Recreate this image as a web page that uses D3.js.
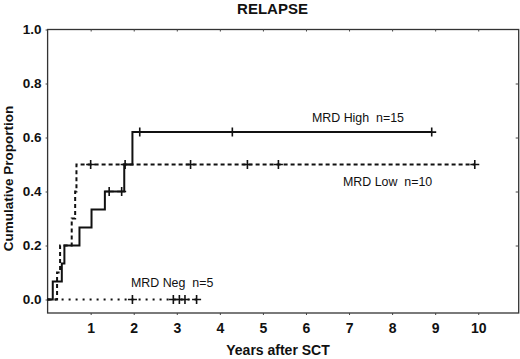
<!DOCTYPE html>
<html>

<head>
    <title>Relapse</title>
    <script src="https://d3js.org/d3.v7.min.js"></script>
    <style>
        body { margin: 0; background: #fff; }
        text { font-family: Arial, "Liberation Sans", sans-serif; fill: #111; }
    </style>
</head>

<body>
    <svg id="chart"></svg>

    <script>
        // Data
        var xTicks = [1, 2, 3, 4, 5, 6, 7, 8, 9, 10];
        var yTicks = [0.0, 0.2, 0.4, 0.6, 0.8, 1.0];

        var highEventTimes = [0.12, 0.33, 0.39, 0.74, 1.02, 1.33, 1.78, 1.97];
        var highEventValues = [0.067, 0.133, 0.2, 0.267, 0.333, 0.4, 0.5, 0.62];
        var highCensorTimes = [1.43, 1.72, 2.14, 4.29, 8.92];

        var lowEventTimes = [0.22, 0.29, 0.56, 0.64, 0.67];
        var lowEventValues = [0.1, 0.2, 0.3, 0.4, 0.5];
        var lowCensorTimes = [1.0, 1.8, 3.32, 4.64, 5.36, 9.92];

        var negEventTimes = [];
        var negEventValues = [];
        var negCensorTimes = [1.97, 2.92, 3.06, 3.19, 3.46];

        var groups = [
            { name: "MRD High  n=15", events: highEventTimes, values: highEventValues, censors: highCensorTimes, dash: null, lx: 312, ly: 121.5 },
            { name: "MRD Low  n=10", events: lowEventTimes, values: lowEventValues, censors: lowCensorTimes, dash: "4,3", lx: 343, ly: 186 },
            { name: "MRD Neg  n=5", events: negEventTimes, values: negEventValues, censors: negCensorTimes, dash: "2,5", lx: 131, ly: 286.5 }
        ];

        var W = 520, H = 359;
        var x = d3.scaleLinear().domain([0, 10.94]).range([47.6, 518.7]);
        var y = d3.scaleLinear().domain([-0.05, 1]).range([313, 29.5]);

        var svg = d3.select("#chart").attr("width", W).attr("height", H);

        // value of the step curve at time t
        function valueAt(g, t) {
            var v = 0;
            g.events.forEach(function(e, i) { if (e <= t) v = g.values[i]; });
            return v;
        }

        // frame
        svg.append("rect")
            .attr("x", x(0)).attr("y", y(1))
            .attr("width", x(10.94) - x(0)).attr("height", y(-0.05) - y(1))
            .attr("fill", "none").attr("stroke", "#333").attr("stroke-width", 1.3);

        // axes
        var xAxis = svg.append("g")
            .attr("transform", "translate(0," + y(-0.05) + ")")
            .call(d3.axisBottom(x).tickValues(xTicks).tickSize(2).tickPadding(8).tickFormat(d3.format("d")));
        xAxis.select(".domain").remove();
        xAxis.selectAll("text").attr("font-size", 14).attr("font-weight", "bold")
            .style("font-family", "Arial, 'Liberation Sans', sans-serif");

        var yAxis = svg.append("g")
            .attr("transform", "translate(" + x(0) + ",0)")
            .call(d3.axisLeft(y).tickValues(yTicks).tickSize(2).tickPadding(4).tickFormat(d3.format(".1f")));
        yAxis.select(".domain").remove();
        yAxis.selectAll("text").attr("font-size", 13.5).attr("font-weight", "bold")
            .style("font-family", "Arial, 'Liberation Sans', sans-serif");

        // inward ticks on top and right
        svg.append("g").attr("transform", "translate(0," + y(1) + ")")
            .call(d3.axisBottom(x).tickValues(xTicks).tickSize(2).tickFormat(""))
            .select(".domain").remove();
        svg.append("g").attr("transform", "translate(" + x(10.94) + ",0)")
            .call(d3.axisLeft(y).tickValues(yTicks.slice(1, 5)).tickSize(3).tickFormat(""))
            .select(".domain").remove();
        svg.selectAll(".tick line").attr("stroke", "#444");

        // curves
        var line = d3.line()
            .x(function(d) { return x(d[0]); })
            .y(function(d) { return y(d[1]); })
            .curve(d3.curveStepAfter);

        groups.forEach(function(g) {
            var end = d3.max(g.censors);
            var pts = [[0, 0]];
            g.events.forEach(function(e, i) { pts.push([e, g.values[i]]); });
            pts.push([end, valueAt(g, end)]);

            svg.append("path")
                .datum(pts)
                .attr("d", line)
                .attr("fill", "none")
                .attr("stroke", "#111")
                .attr("stroke-width", 2)
                .attr("stroke-dasharray", g.dash);

            // censor marks
            svg.append("g").selectAll("path")
                .data(g.censors)
                .enter().append("path")
                .attr("d", function(t) {
                    var cx = x(t), cy = y(valueAt(g, t));
                    return "M" + (cx - 4.5) + "," + cy + "H" + (cx + 4.5) +
                        "M" + cx + "," + (cy - 4.5) + "V" + (cy + 4.5);
                })
                .attr("stroke", "#111")
                .attr("stroke-width", 1.6);

            svg.append("text")
                .attr("x", g.lx).attr("y", g.ly)
                .attr("font-size", 12.4)
                .style("white-space", "pre")
                .text(g.name);
        });

        // titles
        svg.append("text")
            .attr("x", 272.5).attr("y", 13.5)
            .attr("text-anchor", "middle")
            .attr("font-size", 15).attr("font-weight", "bold")
            .text("RELAPSE");

        svg.append("text")
            .attr("x", 278).attr("y", 355)
            .attr("text-anchor", "middle")
            .attr("font-size", 14).attr("font-weight", "bold")
            .text("Years after SCT");

        svg.append("text")
            .attr("transform", "translate(13,178.5) rotate(-90)")
            .attr("text-anchor", "middle")
            .attr("font-size", 13.5).attr("font-weight", "bold")
            .text("Cumulative Proportion");
    </script>
</body>

</html>
